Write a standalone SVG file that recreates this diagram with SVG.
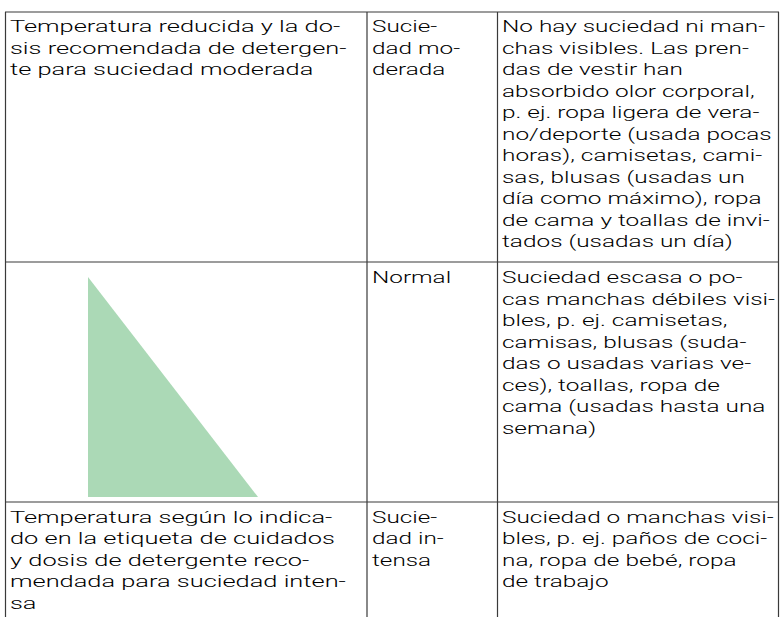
<svg xmlns="http://www.w3.org/2000/svg" width="781" height="617" viewBox="0 0 781 617">
<style>
.t{font-family:Roboto,"Liberation Sans",Arial,sans-serif;font-weight:300;font-size:17px;fill:#000}
.g{stroke:#3a3a3a;stroke-width:1.2;fill:none}
</style>
<rect x="0" y="0" width="781" height="617" fill="#fff"/>
<g id="grid">
<line class="g" x1="5.5" y1="12" x2="5.5" y2="617"/>
<line class="g" x1="367" y1="12" x2="367" y2="617"/>
<line class="g" x1="497.5" y1="12" x2="497.5" y2="617"/>
<line class="g" x1="778.5" y1="12" x2="778.5" y2="617"/>
<line class="g" x1="5" y1="12" x2="779" y2="12"/>
<line class="g" x1="5" y1="262" x2="779" y2="262"/>
<line class="g" x1="5" y1="502" x2="779" y2="502"/>
</g>
<g id="r1c1" transform="translate(10,0) scale(1.495,1)">
<text class="t" x="0" y="32.5">Temperatura reducida y la do-</text>
<text class="t" x="0" y="54">sis recomendada de detergen-</text>
<text class="t" x="0" y="75.5">te para suciedad moderada</text>
</g>
<g id="r1c2" transform="translate(372,0) scale(1.43,1)">
<text class="t" x="0" y="32.5">Sucie-</text>
<text class="t" x="0" y="54">dad mo-</text>
<text class="t" x="0" y="75.5">derada</text>
</g>
<g id="r1c3" transform="translate(502,0) scale(1.435,1)">
<text class="t" x="0" y="32.5">No hay suciedad ni man-</text>
<text class="t" x="0" y="54">chas visibles. Las pren-</text>
<text class="t" x="0" y="75.5">das de vestir han</text>
<text class="t" x="0" y="97">absorbido olor corporal,</text>
<text class="t" x="0" y="118.5">p. ej. ropa ligera de vera-</text>
<text class="t" x="0" y="140">no/deporte (usada pocas</text>
<text class="t" x="0" y="161.5">horas), camisetas, cami-</text>
<text class="t" x="0" y="183">sas, blusas (usadas un</text>
<text class="t" x="0" y="204.5">día como máximo), ropa</text>
<text class="t" x="0" y="226">de cama y toallas de invi-</text>
<text class="t" x="0" y="247.5">tados (usadas un día)</text>
</g>
<g id="r2c1">
<polygon points="88,277 88,497 258,497" fill="#abd9b6"/>
</g>
<g id="r2c2" transform="translate(372,0) scale(1.43,1)">
<text class="t" x="0" y="283.5">Normal</text>
</g>
<g id="r2c3" transform="translate(502,0) scale(1.435,1)">
<text class="t" x="0" y="283.5">Suciedad escasa o po-</text>
<text class="t" x="0" y="305">cas manchas débiles visi-</text>
<text class="t" x="0" y="326.5">bles, p. ej. camisetas,</text>
<text class="t" x="0" y="348">camisas, blusas (suda-</text>
<text class="t" x="0" y="369.5">das o usadas varias ve-</text>
<text class="t" x="0" y="391">ces), toallas, ropa de</text>
<text class="t" x="0" y="412.5">cama (usadas hasta una</text>
<text class="t" x="0" y="434">semana)</text>
</g>
<g id="r3c1" transform="translate(10,0) scale(1.495,1)">
<text class="t" x="0" y="523">Temperatura según lo indica-</text>
<text class="t" x="0" y="544.5">do en la etiqueta de cuidados</text>
<text class="t" x="0" y="566">y dosis de detergente reco-</text>
<text class="t" x="0" y="587.5">mendada para suciedad inten-</text>
<text class="t" x="0" y="609">sa</text>
</g>
<g id="r3c2" transform="translate(372,0) scale(1.43,1)">
<text class="t" x="0" y="523">Sucie-</text>
<text class="t" x="0" y="544.5">dad in-</text>
<text class="t" x="0" y="566">tensa</text>
</g>
<g id="r3c3" transform="translate(502,0) scale(1.435,1)">
<text class="t" x="0" y="523">Suciedad o manchas visi-</text>
<text class="t" x="0" y="544.5">bles, p. ej. paños de coci-</text>
<text class="t" x="0" y="566">na, ropa de bebé, ropa</text>
<text class="t" x="0" y="587.5">de trabajo</text>
</g>
</svg>
